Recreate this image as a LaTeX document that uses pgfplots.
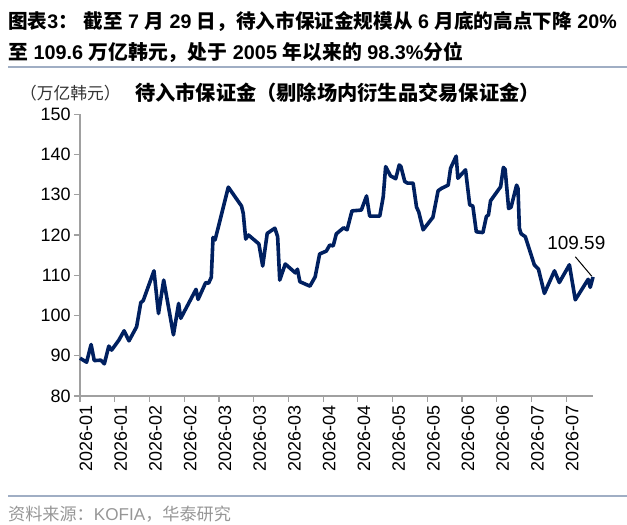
\documentclass[border=0pt]{standalone}
\usepackage{pgfplots}
\pgfplotsset{compat=1.18}
\usepackage{fontspec}
\setmainfont{Liberation Sans}
\newfontfamily\cjk{Noto Sans CJK SC}
\definecolor{navy}{RGB}{0,32,96}
\definecolor{sep}{RGB}{160,174,196}
\definecolor{axgray}{RGB}{160,160,160}
\definecolor{foot}{RGB}{150,150,150}
\begin{document}
\begin{tikzpicture}[x=1bp,y=1bp]
\path[use as bounding box] (0,0) rectangle (627,525);
% titles
\node[anchor=west,inner sep=0pt] at (8,503) {\fontsize{19.7}{22}\selectfont\bfseries{\cjk 图表}3{\cjk ：} {\cjk 截至} 7 {\cjk 月} 29 {\cjk 日，待入市保证金规模从} 6 {\cjk 月底的高点下降} 20\%};
\node[anchor=west,inner sep=0pt] at (8,473) {\fontsize{19.9}{22}\selectfont\bfseries{\cjk 至} 109.6 {\cjk 万亿韩元，处于} 2005 {\cjk 年以来的} 98.3\%{\cjk 分位}};
\draw[sep,line width=2bp] (8,458) -- (627,458);
\node[anchor=west,inner sep=0pt,text=black!80] at (20,432) {\fontsize{16.8}{18}\selectfont\cjk （万亿韩元）};
\node[anchor=west,inner sep=0pt] at (135,432) {\fontsize{20.3}{22}\selectfont\cjk\bfseries 待入市保证金（剔除场内衍生品交易保证金）};
\draw[sep,line width=2bp] (8,29) -- (627,29);
\node[anchor=west,inner sep=0pt,text=foot] at (8,11) {\fontsize{17.2}{19}\selectfont{\cjk 资料来源：}KOFIA{\cjk ，华泰研究}};
\begin{axis}[
  at={(80bp,129bp)}, anchor=south west,
  scale only axis, width=513bp, height=281.7bp,
  xmin=0, xmax=147.7, ymin=80, ymax=150,
  axis lines*=left,
  axis line style={draw=axgray, line width=1.5bp},
  tick align=outside,
  major tick length=6bp,
  tick style={draw=axgray, line width=1.2bp},
  ytick={80,90,...,150},
  xtick={0,10,...,140},
  xticklabels={2026-01,2026-01,2026-02,2026-02,2026-03,2026-03,2026-03,2026-04,2026-04,2026-05,2026-05,2026-06,2026-06,2026-07,2026-07},
  tick label style={font=\fontsize{18}{20}\selectfont},
  /pgf/number format/assume math mode=true,
  x tick label style={rotate=90, anchor=east, yshift=-6bp},
  clip=false,
]
\addplot[navy, line width=3.6bp, line join=round] table {
0.0 89.4
1.9 88.4
3.2 92.8
4.1 88.8
6.0 88.9
7.0 88.0
8.3 92.4
9.1 91.4
11.2 93.9
12.7 96.2
14.1 93.7
16.3 97.2
17.5 103.2
18.2 103.7
21.3 111.1
22.6 100.5
24.1 108.8
26.9 95.2
28.4 103.0
29.0 99.3
33.4 106.5
34.0 104.0
36.2 108.2
37.0 108.0
37.8 109.5
38.3 119.4
38.9 118.8
42.7 131.9
46.5 127.2
47.0 125.4
47.7 119.0
48.5 120.0
51.5 117.8
52.6 112.3
53.9 120.4
56.1 121.7
56.9 119.6
57.5 108.8
59.1 112.8
62.0 110.6
62.6 111.5
63.3 108.4
66.2 107.3
67.7 109.6
69.0 115.3
70.9 116.0
71.9 117.5
72.9 117.3
73.8 120.3
75.9 121.8
76.9 121.3
78.3 126.0
81.0 126.2
82.5 129.7
83.4 124.7
86.3 124.7
87.3 129.5
88.0 137.0
89.4 134.7
90.9 134.0
91.9 137.4
92.4 137.0
93.5 133.3
94.3 132.9
95.9 132.9
96.9 126.9
97.5 125.8
98.8 121.3
101.6 124.4
103.1 131.0
104.1 131.6
106.0 132.4
106.7 136.6
108.3 139.6
108.8 134.1
111.0 136.2
112.2 127.5
113.1 127.2
114.1 120.8
116.0 120.6
117.0 124.6
117.6 125.0
118.2 128.5
121.1 132.0
121.9 136.8
122.4 136.3
123.4 126.6
124.1 126.9
125.7 132.4
126.1 131.6
126.5 121.7
127.0 120.3
128.2 119.6
130.8 112.6
132.0 111.5
133.7 105.5
136.6 111.1
138.0 108.2
140.9 112.6
142.6 103.9
146.3 109.0
146.9 107.0
147.7 109.59
};
\node[font=\fontsize{19}{22}\selectfont] at (axis cs:142.9,118.1) {109.59};
\draw[black, line width=1bp] (axis cs:142.6,114.6) -- (axis cs:147.3,109.8);
\end{axis}
\end{tikzpicture}
\end{document}
